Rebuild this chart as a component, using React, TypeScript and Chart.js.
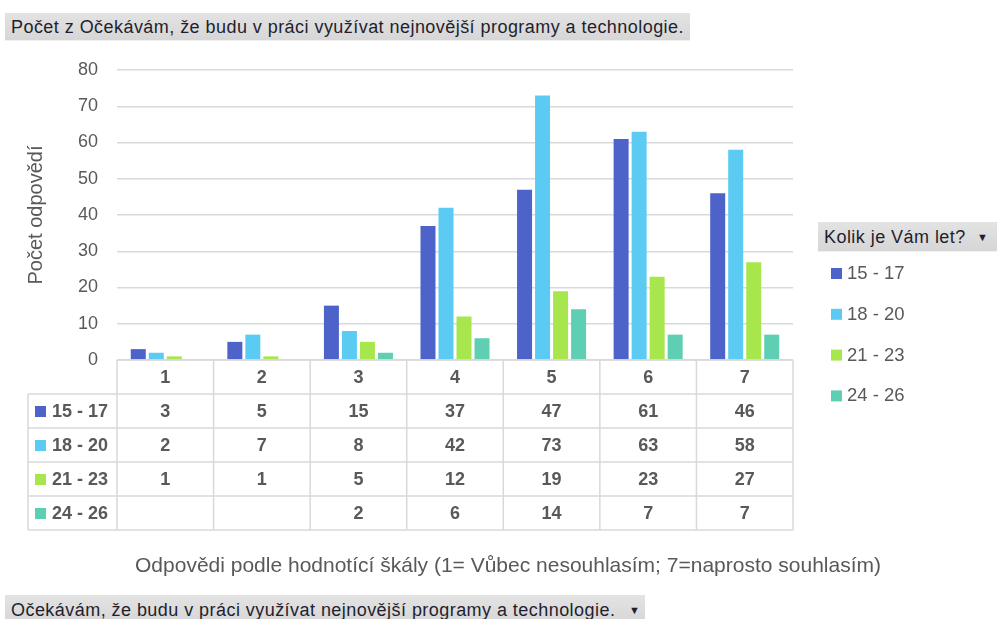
import { useEffect, useRef } from "react";
import { Chart, registerables } from "chart.js";

Chart.register(...registerables);

const categories = ["1", "2", "3", "4", "5", "6", "7"];
const seriesLabels = ["15 - 17", "18 - 20", "21 - 23", "24 - 26"];
const values1517 = [3, 5, 15, 37, 47, 61, 46];
const values1820 = [2, 7, 8, 42, 73, 63, 58];
const values2123 = [1, 1, 5, 12, 19, 23, 27];
const values2426 = [null, null, 2, 6, 14, 7, 7];
const seriesColors = ["#4E63C9", "#5CCBF4", "#A7E74D", "#5ECFB2"];

const chartTitle = "Počet z Očekávám, že budu v práci využívat nejnovější programy a technologie.";
const yAxisTitle = "Počet odpovědí";
const xAxisTitle = "Odpovědi podle hodnotící škály (1= Vůbec nesouhlasím; 7=naprosto souhlasím)";
const legendTitle = "Kolik je Vám let?";
const filterTitle = "Očekávám, že budu v práci využívat nejnovější programy a technologie.";

const TEXT = "#595959";
const LINE = "#d9d9d9";
const FONT = "'Liberation Sans', Arial, sans-serif";

const tablePlugin = {
  id: "dataTable",
  afterDraw(chart: any) {
    const ctx = chart.ctx;
    const xs = chart.scales.x;
    const area = chart.chartArea;
    const n = chart.data.labels.length;
    const colW = (area.right - area.left) / n;
    const rowH = 34;
    const top = area.bottom;
    const labelLeft = 28;
    const dsets = chart.data.datasets;
    const bottom = top + rowH * (dsets.length + 1);
    ctx.save();
    ctx.strokeStyle = LINE;
    ctx.lineWidth = 1.5;
    ctx.beginPath();
    ctx.moveTo(area.left, top);
    ctx.lineTo(area.right, top);
    for (let r = 1; r <= dsets.length + 1; r++) {
      const y = top + r * rowH;
      ctx.moveTo(labelLeft, y);
      ctx.lineTo(area.right, y);
    }
    ctx.moveTo(labelLeft, top + rowH);
    ctx.lineTo(labelLeft, bottom);
    for (let c = 0; c <= n; c++) {
      const x = c < n ? xs.getPixelForValue(c) - colW / 2 : xs.getPixelForValue(n - 1) + colW / 2;
      ctx.moveTo(x, top);
      ctx.lineTo(x, bottom);
    }
    ctx.stroke();

    ctx.fillStyle = TEXT;
    ctx.font = `bold 18px ${FONT}`;
    ctx.textAlign = "center";
    ctx.textBaseline = "middle";
    chart.data.labels.forEach((lab: string, i: number) => {
      ctx.fillText(lab, xs.getPixelForValue(i), top + rowH / 2 + 1);
    });
    dsets.forEach((ds: any, r: number) => {
      const yc = top + rowH * (r + 1) + rowH / 2 + 1;
      ctx.fillStyle = ds.backgroundColor;
      ctx.fillRect(35, yc - 6, 11, 11);
      ctx.fillStyle = TEXT;
      ctx.textAlign = "left";
      ctx.fillText(ds.label, 52, yc);
      ctx.textAlign = "center";
      ds.data.forEach((v: number | null, i: number) => {
        if (v === null || v === undefined) return;
        ctx.fillText(String(v), xs.getPixelForValue(i), yc);
      });
    });

    // x axis title
    ctx.font = `21px ${FONT}`;
    ctx.textAlign = "center";
    ctx.fillText(xAxisTitle, 508, 566);

    // legend
    ctx.font = `18.5px ${FONT}`;
    ctx.textAlign = "left";
    dsets.forEach((ds: any, r: number) => {
      const yc = 274 + r * 40.8;
      ctx.fillStyle = ds.backgroundColor;
      ctx.fillRect(831, yc - 6, 11, 11);
      ctx.fillStyle = TEXT;
      ctx.fillText(ds.label, 847, yc);
    });
    ctx.restore();
  },
};

const buttonStyle = (left: number, top: number, width: number, height: number): any => ({
  position: "absolute",
  left,
  top,
  width,
  height,
  boxSizing: "border-box",
  background: "linear-gradient(#e3e3e3, #d6d6d6)",
  borderBottom: "1px solid #f0f0f0",
  color: "#1f1f2f",
  fontFamily: FONT,
  fontSize: 18,
  letterSpacing: "0.45px",
  lineHeight: `${height}px`,
  paddingLeft: 6,
  whiteSpace: "nowrap",
  overflow: "hidden",
});

export default function App() {
  const canvasRef = useRef<HTMLCanvasElement | null>(null);

  useEffect(() => {
    const canvas = canvasRef.current;
    if (!canvas) return;
    const series = [values1517, values1820, values2123, values2426];
    const chart = new Chart(canvas, {
      type: "bar",
      data: {
        labels: categories,
        datasets: series.map((data, i) => ({
          label: seriesLabels[i],
          data,
          backgroundColor: seriesColors[i],
          categoryPercentage: 0.746,
          barPercentage: 0.833,
        })),
      },
      options: {
        animation: false,
        responsive: false,
        devicePixelRatio: 1,
        layout: { padding: { left: 0, top: 70, right: 204, bottom: 259 } },
        plugins: {
          legend: { display: false },
          tooltip: { enabled: false },
          title: { display: false },
        },
        scales: {
          x: { display: false },
          y: {
            min: 0,
            max: 80,
            ticks: {
              stepSize: 10,
              color: TEXT,
              font: { family: FONT, size: 18 },
              padding: 19,
            },
            grid: { color: LINE, lineWidth: 1.5, drawTicks: false },
            border: { display: false },
            title: {
              display: true,
              text: yAxisTitle,
              color: TEXT,
              font: { family: FONT, size: 20 },
              padding: { top: 24, bottom: 0 },
            },
            afterFit(scale: any) {
              scale.width = 117;
            },
          },
        },
      },
      plugins: [tablePlugin],
    } as any);
    return () => chart.destroy();
  }, []);

  return (
    <div style={{ position: "absolute", left: 0, top: 0, width: 997, height: 619, background: "#fff", overflow: "hidden" }}>
      <canvas ref={canvasRef} width={997} height={619} style={{ position: "absolute", left: 0, top: 0 }} />
      <div style={buttonStyle(5, 13, 685, 28)}>{chartTitle}</div>
      <div style={buttonStyle(818, 222, 179, 30)}>
        {legendTitle}
        <span style={{ position: "absolute", left: 159, fontSize: 11 }}>▼</span>
      </div>
      <div style={buttonStyle(5, 595, 640, 30)}>
        {filterTitle}
        <span style={{ position: "absolute", left: 624, fontSize: 11 }}>▼</span>
      </div>
    </div>
  );
}
